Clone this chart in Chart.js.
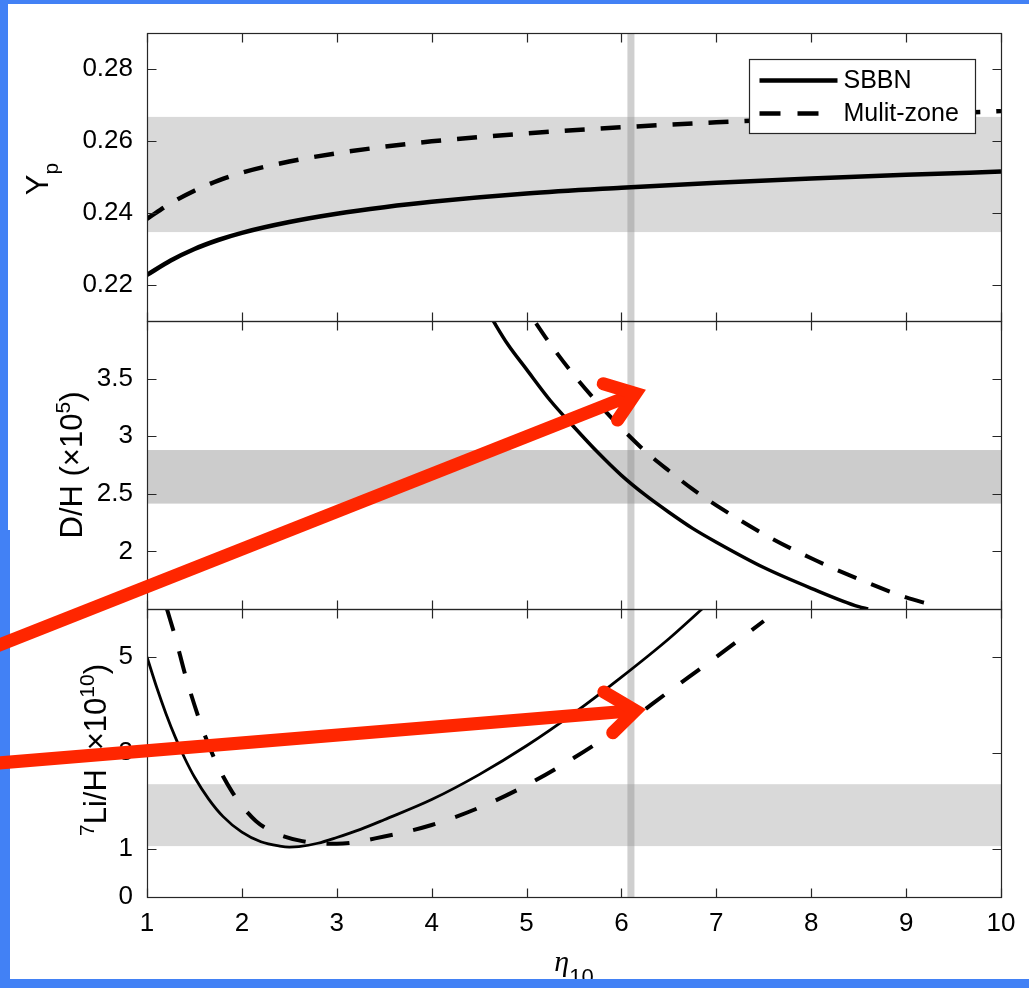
<!DOCTYPE html>
<html>
<head>
<meta charset="utf-8">
<title>BBN abundances vs eta</title>
<script src="https://cdn.jsdelivr.net/npm/chart.js@4.4.1/dist/chart.umd.min.js"></script>
<style>
  html, body { margin: 0; padding: 0; background: #fff; }
  #wrap { position: relative; width: 1029px; height: 988px; }
</style>
</head>
<body>
<div id="wrap"><canvas id="bbn" width="1029" height="988"></canvas></div>
<script>
// ---- data (eta_10 on the x axis) ----
const seriesLabels = ['SBBN', 'Mulit-zone'];

// helium mass fraction Y_p
const ypEta   = [1, 1.25, 1.5, 1.75, 2, 2.5, 3, 3.5, 4, 5, 6, 7, 8, 9, 10];
const ypSBBN  = [0.2228, 0.2268, 0.2300, 0.2325, 0.2345, 0.2375, 0.2398, 0.2416, 0.2431, 0.2454, 0.2470, 0.2484, 0.2496, 0.2506, 0.2515];
const ypMulti = [0.2384, 0.2427, 0.2462, 0.2490, 0.2512, 0.2543, 0.2566, 0.2584, 0.2599, 0.2621, 0.2638, 0.2652, 0.2663, 0.2673, 0.2683];

// deuterium D/H (x 1e5)
const dhEtaSBBN  = [4.62, 4.8, 5, 5.25, 5.5, 5.75, 6, 6.25, 6.5, 6.75, 7, 7.5, 8, 8.5, 8.6];
const dhSBBN     = [4.04, 3.80, 3.58, 3.31, 3.08, 2.86, 2.66, 2.49, 2.34, 2.20, 2.08, 1.86, 1.68, 1.52, 1.50];
const dhEtaMulti = [5.1, 5.25, 5.5, 5.75, 6, 6.25, 6.5, 6.75, 7, 7.5, 8, 8.5, 9, 9.25];
const dhMulti    = [3.98, 3.80, 3.53, 3.29, 3.07, 2.87, 2.70, 2.54, 2.40, 2.15, 1.94, 1.76, 1.60, 1.54];

// lithium 7Li/H (x 1e10)
const liEtaSBBN  = [1, 1.1, 1.2, 1.3, 1.4, 1.5, 1.65, 1.8, 2, 2.2, 2.4, 2.5, 2.6, 2.8, 3, 3.25, 3.5, 4, 4.5, 5, 5.5, 6, 6.5, 6.85];
const liSBBN     = [5.0, 4.38, 3.82, 3.32, 2.88, 2.50, 2.04, 1.68, 1.35, 1.15, 1.06, 1.04, 1.05, 1.12, 1.24, 1.41, 1.61, 2.03, 2.55, 3.15, 3.83, 4.58, 5.38, 6.0];
const liEtaMulti = [1.21, 1.3, 1.4, 1.5, 1.6, 1.7, 1.8, 1.9, 2, 2.15, 2.3, 2.45, 2.6, 2.8, 3, 3.5, 4, 4.5, 5, 5.5, 6, 6.5, 7, 7.5];
const liMulti    = [6.0, 5.4, 4.65, 4.0, 3.42, 2.93, 2.52, 2.18, 1.90, 1.58, 1.38, 1.26, 1.18, 1.12, 1.11, 1.26, 1.50, 1.86, 2.33, 2.90, 3.55, 4.28, 5.0, 5.75];

// observational ranges
const ypBand = [0.2347, 0.2667];
const dhBand = [2.415, 2.88];
const liBand = [1.06, 2.35];
const etaObs = 6.1;

// ticks
const ypTicks = [0.22, 0.24, 0.26, 0.28];
const dhTicks = [2, 2.5, 3, 3.5];
const liTicks = [0, 1, 3, 5];

// red arrows, in (eta, value) of the panel they point into
const arrowDH = { panel: 'yDH', tail: [-0.76, 1.12], tip: [6.30, 3.42], wings: [[5.74, 3.46], [5.91, 3.10]] };
const arrowLi = { panel: 'yLi', tail: [-0.76, 2.76], tip: [6.30, 3.91], wings: [[5.75, 4.32], [5.85, 3.35]] };

// ---- helpers ----
const SANS = '"Liberation Sans", Arial, Helvetica, sans-serif';
const pts = (xs, ys) => xs.map((x, i) => ({ x: x, y: ys[i] }));
const panelIds = ['yYp', 'yDH', 'yLi'];
const bands = { yYp: ypBand, yDH: dhBand, yLi: liBand };
const bandColors = { yYp: '#d9d9d9', yDH: '#cccccc', yLi: '#d9d9d9' };

function curve(label, data, yAxisID, width, dash) {
  return {
    label: label, data: data, yAxisID: yAxisID,
    borderColor: '#000', borderWidth: width, borderDash: dash,
    borderCapStyle: 'butt', borderJoinStyle: 'round',
    pointRadius: 0, fill: false, cubicInterpolationMode: 'monotone'
  };
}

function yScale(min, max, ticks) {
  return {
    type: 'linear', position: 'left', stack: 'eta', stackWeight: 1,
    min: min, max: max,
    grid: { display: false, drawTicks: false }, border: { display: false },
    afterBuildTicks: s => { s.ticks = ticks.map(v => ({ value: v })); },
    afterFit: s => { s.width = 147; },
    ticks: { color: '#000', padding: 14, font: { family: SANS, size: 26 }, callback: v => String(v) }
  };
}

// text runs with sub/superscripts, centred at (cx, cy)
function drawRich(ctx, parts, cx, cy, angle) {
  ctx.save();
  ctx.translate(cx, cy);
  ctx.rotate(angle);
  let w = 0;
  for (const p of parts) { ctx.font = p.font; w += ctx.measureText(p.text).width; }
  let x = -w / 2;
  ctx.textBaseline = 'alphabetic';
  ctx.textAlign = 'left';
  ctx.fillStyle = '#000';
  for (const p of parts) {
    ctx.font = p.font;
    ctx.fillText(p.text, x, p.dy || 0);
    x += ctx.measureText(p.text).width;
  }
  ctx.restore();
}

function drawArrow(chart, arrow) {
  const ctx = chart.ctx, sx = chart.scales.x, sy = chart.scales[arrow.panel];
  const P = ([e, v]) => [sx.getPixelForValue(e), sy.getPixelForValue(v)];
  const tail = P(arrow.tail), tip = P(arrow.tip);
  const lw = 13;
  const unit = (a, b) => { const dx = b[0] - a[0], dy = b[1] - a[1], l = Math.hypot(dx, dy); return [dx / l, dy / l]; };
  const dir = unit(tail, tip);
  const wings = arrow.wings.map(P).map(w => { const u = unit(w, tip); return [w[0] + u[0] * lw / 2, w[1] + u[1] * lw / 2]; });
  const a1 = unit(tip, wings[0]), a2 = unit(tip, wings[1]);
  const half = Math.acos(a1[0] * a2[0] + a1[1] * a2[1]) / 2;
  const back = (lw / 2) / Math.sin(half);
  const v = [tip[0] - dir[0] * back, tip[1] - dir[1] * back];
  ctx.save();
  ctx.strokeStyle = 'rgb(255,38,0)';
  ctx.lineWidth = lw;
  ctx.lineCap = 'butt';
  ctx.beginPath();
  ctx.moveTo(tail[0], tail[1]);
  ctx.lineTo(v[0], v[1]);
  ctx.stroke();
  ctx.lineCap = 'round';
  ctx.lineJoin = 'miter';
  ctx.miterLimit = 10;
  ctx.beginPath();
  ctx.moveTo(wings[0][0], wings[0][1]);
  ctx.lineTo(v[0], v[1]);
  ctx.lineTo(wings[1][0], wings[1][1]);
  ctx.stroke();
  ctx.restore();
}

const figurePlugin = {
  id: 'figure',
  beforeDraw(chart) {
    const ctx = chart.ctx;
    ctx.save();
    ctx.fillStyle = '#fff';
    ctx.fillRect(0, 0, chart.width, chart.height);
    ctx.restore();
  },
  beforeDatasetsDraw(chart) {
    const { ctx, chartArea: a, scales } = chart;
    ctx.save();
    for (const id of panelIds) {
      const s = scales[id];
      const y1 = s.getPixelForValue(bands[id][1]), y2 = s.getPixelForValue(bands[id][0]);
      ctx.fillStyle = bandColors[id];
      ctx.fillRect(a.left, y1, a.right - a.left, y2 - y1);
    }
    const x = scales.x.getPixelForValue(etaObs);
    ctx.fillStyle = 'rgba(140,140,140,0.42)';
    ctx.fillRect(x - 3.5, a.top, 7, a.bottom - a.top);
    ctx.restore();
  },
  // keep each curve inside its own panel
  beforeDatasetDraw(chart, args) {
    const s = args.meta.yScale, a = chart.chartArea, ctx = chart.ctx;
    ctx.save();
    ctx.beginPath();
    ctx.rect(a.left, s.top, a.right - a.left, s.bottom - s.top);
    ctx.clip();
  },
  afterDatasetDraw(chart) { chart.ctx.restore(); },
  afterDraw(chart) {
    const { ctx, chartArea: a, scales } = chart;
    const sx = scales.x;
    ctx.save();

    // boxes with inward ticks on every side
    ctx.strokeStyle = '#262626';
    ctx.lineWidth = 1.2;
    for (const id of panelIds) {
      const s = scales[id];
      const top = Math.round(s.top) + 0.5, bot = Math.round(s.bottom) + 0.5;
      const l = Math.round(a.left) + 0.5, r = Math.round(a.right) + 0.5;
      ctx.strokeRect(l, top, r - l, bot - top);
      ctx.beginPath();
      for (const t of sx.ticks) {
        const x = Math.round(sx.getPixelForValue(t.value)) + 0.5;
        ctx.moveTo(x, top); ctx.lineTo(x, top + 9);
        ctx.moveTo(x, bot); ctx.lineTo(x, bot - 9);
      }
      for (const t of s.ticks) {
        const y = Math.round(s.getPixelForValue(t.value)) + 0.5;
        ctx.moveTo(l, y); ctx.lineTo(l + 9, y);
        ctx.moveTo(r, y); ctx.lineTo(r - 9, y);
      }
      ctx.stroke();
    }

    // legend in the top panel
    const ds = chart.data.datasets;
    const lgW = 226, lgH = 74;
    const lgL = Math.round(a.right - 26 - lgW) + 0.5, lgT = Math.round(scales.yYp.top + 26) + 0.5;
    ctx.fillStyle = '#fff';
    ctx.fillRect(lgL, lgT, lgW, lgH);
    ctx.strokeStyle = '#262626';
    ctx.lineWidth = 1.2;
    ctx.strokeRect(lgL, lgT, lgW, lgH);
    [0, 1].forEach(i => {
      const y = lgT + 21 + i * 33;
      const dashed = ds[i].borderDash && ds[i].borderDash.length;
      ctx.strokeStyle = '#000';
      ctx.lineWidth = ds[i].borderWidth;
      ctx.setLineDash(dashed ? [21, 17] : []);
      ctx.beginPath();
      ctx.moveTo(lgL + 10, y);
      ctx.lineTo(lgL + (dashed ? 69 : 88), y);
      ctx.stroke();
      ctx.setLineDash([]);
      ctx.fillStyle = '#000';
      ctx.font = '25px ' + SANS;
      ctx.textBaseline = 'middle';
      ctx.textAlign = 'left';
      ctx.fillText(ds[i].label, lgL + 94, y + 1);
    });

    // axis titles
    const big = '31px ' + SANS, small = '21px ' + SANS;
    const mid = s => (s.top + s.bottom) / 2;
    drawRich(ctx, [{ text: 'Y', font: big }, { text: 'p', font: small, dy: 10 }], 48, mid(scales.yYp) + 2, -Math.PI / 2);
    drawRich(ctx, [{ text: 'D/H (\u00d710', font: big }, { text: '5', font: small, dy: -12 }, { text: ')', font: big }],
      82, mid(scales.yDH), -Math.PI / 2);
    drawRich(ctx, [{ text: '7', font: small, dy: -12 }, { text: 'Li/H (\u00d710', font: big },
      { text: '10', font: small, dy: -12 }, { text: ')', font: big }], 106, mid(scales.yLi) - 3, -Math.PI / 2);
    drawRich(ctx, [{ text: '\u03b7', font: 'italic 30px "Liberation Serif", "DejaVu Serif", serif' },
      { text: '10', font: '22px ' + SANS, dy: 13 }], (a.left + a.right) / 2, 971, 0);

    // blue frame around the figure
    ctx.fillStyle = '#4281f5';
    ctx.fillRect(0, 0, chart.width, 4);
    ctx.fillRect(0, 979, chart.width, 9);
    ctx.fillRect(0, 0, 8, 530);
    ctx.fillRect(0, 530, 10, 458);
    ctx.restore();

    drawArrow(chart, arrowDH);
    drawArrow(chart, arrowLi);
  }
};

new Chart(document.getElementById('bbn'), {
  type: 'line',
  data: {
    datasets: [
      curve(seriesLabels[0], pts(ypEta, ypSBBN), 'yYp', 4.5, []),
      curve(seriesLabels[1], pts(ypEta, ypMulti), 'yYp', 4.5, [20, 16]),
      curve(seriesLabels[0], pts(dhEtaSBBN, dhSBBN), 'yDH', 3.5, []),
      curve(seriesLabels[1], pts(dhEtaMulti, dhMulti), 'yDH', 4, [20, 16]),
      curve(seriesLabels[0], pts(liEtaSBBN, liSBBN), 'yLi', 2.8, []),
      curve(seriesLabels[1], pts(liEtaMulti, liMulti), 'yLi', 4, [23, 21])
    ]
  },
  options: {
    responsive: false,
    animation: false,
    events: [],
    layout: { padding: { left: 0, right: 28, top: 33, bottom: 0 } },
    plugins: { legend: { display: false }, tooltip: { enabled: false } },
    scales: {
      x: {
        type: 'linear', position: 'bottom', min: 1, max: 10,
        grid: { display: false, drawTicks: false }, border: { display: false },
        afterFit: s => { s.height = 91; },
        ticks: { stepSize: 1, padding: 11, color: '#000', maxRotation: 0, autoSkip: false,
                 font: { family: SANS, size: 26 }, callback: v => String(v) }
      },
      yLi: yScale(0, 6, liTicks),
      yDH: yScale(1.5, 4, dhTicks),
      yYp: yScale(0.21, 0.29, ypTicks)
    }
  },
  plugins: [figurePlugin]
});
</script>
</body>
</html>
